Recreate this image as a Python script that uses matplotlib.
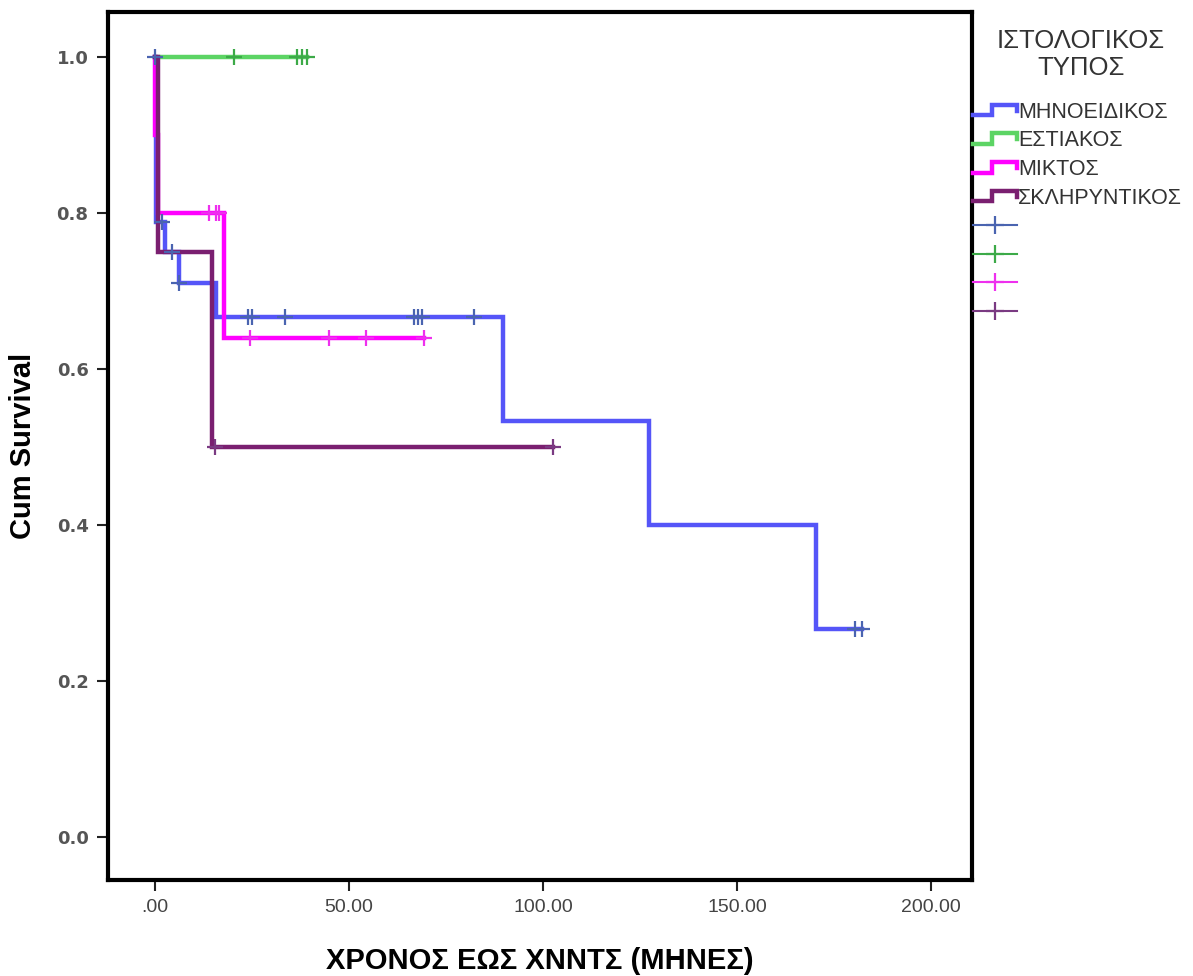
import numpy as np
import matplotlib
matplotlib.use("Agg")
from matplotlib import pyplot as plt
from matplotlib.legend_handler import HandlerBase
from matplotlib.lines import Line2D

# step curves (time, cumulative survival) and censored times per group
groups = ["ΜΗΝΟΕΙΔΙΚΟΣ", "ΕΣΤΙΑΚΟΣ", "ΜΙΚΤΟΣ", "ΣΚΛΗΡΥΝΤΙΚΟΣ"]

blue_t = [0, 0.3, 2.8, 6.2, 15.7, 89.6, 127.4, 170.3, 182.2]
blue_s = [1.0, 0.789, 0.75, 0.711, 0.667, 0.533, 0.4, 0.267, 0.267]
blue_c = [0, 2.0, 4.6, 6.4, 24.0, 25.0, 33.7, 66.8, 67.8, 68.8, 82.2, 180.4, 182.2]

green_t = [0, 39.3]
green_s = [1.0, 1.0]
green_c = [20.4, 36.7, 38.0, 39.3]

mag_t = [0, 0, 0.8, 17.8, 69.3]
mag_s = [1.0, 0.9, 0.8, 0.64, 0.64]
mag_c = [13.9, 15.7, 16.5, 24.5, 44.8, 54.5, 69.3]

purp_t = [0, 0.8, 14.9, 102.7]
purp_s = [1.0, 0.75, 0.5, 0.5]
purp_c = [15.5, 102.7]

xticks = [0, 50, 100, 150, 200]
xtick_labels = [".00", "50.00", "100.00", "150.00", "200.00"]
yticks = [0.0, 0.2, 0.4, 0.6, 0.8, 1.0]

line_colors = ["#5555f8", "#5cd464", "#ff00ff", "#7a1f70"]
cens_colors = ["#4a64b0", "#3caa48", "#ee30ee", "#7a3a82"]


def surv_at(t, s, x):
    idx = np.searchsorted(np.array(t), np.array(x), side="right") - 1
    return np.array(s)[idx]


class StepHandler(HandlerBase):
    def create_artists(self, legend, orig_handle, xdescent, ydescent,
                       width, height, fontsize, trans):
        xs = np.array([0, 0.42, 0.42, 1.0, 1.0]) * width - xdescent
        ys = np.array([0.15, 0.15, 0.85, 0.85, 0.45]) * height - ydescent
        ln = Line2D(xs, ys, color=orig_handle.get_color(), lw=3.2,
                    solid_joinstyle="miter", transform=trans)
        return [ln]


fig = plt.figure(figsize=(11.93, 9.76), dpi=100)
ax = fig.add_axes([0.0905, 0.0984, 0.7243, 0.8893])

data = [(blue_t, blue_s, blue_c), (green_t, green_s, green_c),
        (mag_t, mag_s, mag_c), (purp_t, purp_s, purp_c)]

step_handles = []
cens_handles = []
for (t, s, c), lc in zip(data, line_colors):
    h, = ax.step(t, s, where="post", color=lc, lw=3.2, solid_joinstyle="miter")
    step_handles.append(h)
for (t, s, c), cc in zip(data, cens_colors):
    ax.plot(c, surv_at(t, s, c), ls="none", marker="+", ms=12,
            mew=1.6, color=cc)
    cens_handles.append(Line2D([], [], color=cc, lw=1.5, marker="+",
                               ms=13, mew=1.6))

ax.set_xlim(-12, 210.5)
ax.set_ylim(-0.055, 1.058)
ax.set_xticks(xticks)
ax.set_xticklabels(xtick_labels, fontsize=14, family="Liberation Sans",
                   color="#444444")
ax.set_yticks(yticks)
ax.set_yticklabels([f"{v:.1f}" for v in yticks], fontsize=13,
                   family="DejaVu Sans", color="#555555", weight="bold")
ax.tick_params(direction="out", length=8, width=1.5, color="#222222", pad=6)
for sp in ax.spines.values():
    sp.set_linewidth(3)
    sp.set_color("black")

ax.set_xlabel("ΧΡΟΝΟΣ ΕΩΣ ΧΝΝΤΣ (ΜΗΝΕΣ)", fontsize=21, weight="bold",
              family="Liberation Sans", labelpad=22)
ax.set_ylabel("Cum Survival", fontsize=21, weight="bold",
              family="Liberation Sans", labelpad=14)

fig.text(0.906, 0.944, "ΙΣΤΟΛΟΓΙΚΟΣ\nΤΥΠΟΣ", ha="center", va="center",
         multialignment="center", fontsize=18.5, family="Liberation Sans",
         color="#333333", linespacing=1.15)

leg = fig.legend(step_handles + cens_handles, groups + [""] * 4,
                 handler_map={h: StepHandler() for h in step_handles},
                 loc="upper left", bbox_to_anchor=(0.816, 0.896),
                 frameon=False, prop={"family": "Liberation Sans", "size": 15.5},
                 handlelength=2.0, handletextpad=0.08, labelspacing=0.36,
                 borderaxespad=0, borderpad=0)
for txt in leg.get_texts():
    txt.set_color("#333333")

fig.savefig("out.png", dpi=100, facecolor="white")
